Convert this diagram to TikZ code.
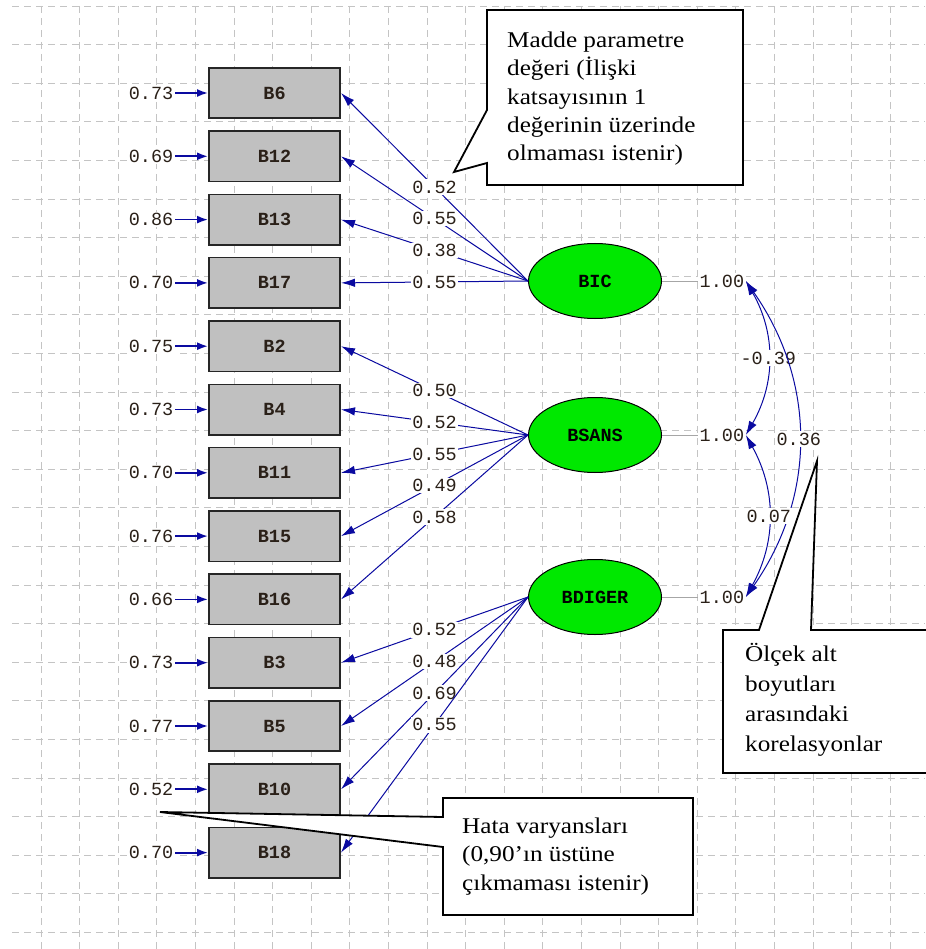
\documentclass[tikz,border=0pt]{standalone}
\usepackage{fontspec}
\setmainfont{Liberation Serif}
\newfontfamily\lisfont{Liberation Mono}
\newfontfamily\notefont[FakeStretch=1.12]{Liberation Serif}
\usetikzlibrary{shapes.geometric, arrows.meta, positioning}
\definecolor{lnb}{HTML}{0A0AA0}
\definecolor{latg}{HTML}{00E800}
\definecolor{obsg}{HTML}{C0C0C0}
\definecolor{grd}{HTML}{C4C4C4}
\definecolor{txt}{HTML}{2A2018}
\newcommand{\valfont}{\lisfont\fontsize{18.5}{20}\selectfont}
\tikzset{
  obs/.style   = {rectangle, draw=black!85, fill=obsg, line width=1.6pt,
                  minimum width=131.4pt, minimum height=50.4pt,
                  font=\valfont\bfseries, text=txt},
  lat/.style   = {ellipse, draw=black, fill=latg, line width=1pt,
                  minimum width=133pt, minimum height=75pt, inner sep=0pt,
                  font=\valfont\bfseries, text=black},
  val/.style   = {fill=white, inner sep=1.5pt, font=\valfont, text=txt},
  larr/.style  = {-{Latex[length=14pt,width=8.5pt]}, line width=1pt, color=lnb},
  earr/.style  = {-{Latex[length=11pt,width=8pt]}, line width=1.8pt, color=lnb},
  carr/.style  = {{Latex[length=14pt,width=8.5pt]}-{Latex[length=14pt,width=8.5pt]},
                  line width=1pt, color=lnb},
  varl/.style  = {draw=gray!70, line width=0.8pt},
  gridln/.style= {draw=grd, line width=0.8pt, dash pattern=on 7pt off 5pt},
  callout/.style={draw=black, fill=white, line width=1.8pt},
  note/.style  = {anchor=north west, inner sep=0pt, align=left,
                  font=\notefont\fontsize{22.5}{28.4}\selectfont},
}
\begin{document}
\begin{tikzpicture}[x=1pt, y=-1pt]

  \useasboundingbox (0,0) rectangle (925,949);
  \fill[white] (0,0) rectangle (925,949);

  % dashed background grid
  \foreach \gx in {0,...,22}
    \draw[gridln] ({41+38.6*\gx},6) -- ({41+38.6*\gx},949);
  \foreach \gy in {0,...,24}
    \draw[gridln] (12,{6+38.6*\gy}) -- (925,{6+38.6*\gy});

  % observed items
  \node[obs] (b6) at (274.5,93) {B6};
  \node[obs, below=11.3pt of b6]  (b12) {B12};
  \node[obs, below=11.3pt of b12] (b13) {B13};
  \node[obs, below=11.3pt of b13] (b17) {B17};
  \node[obs, below=11.3pt of b17] (b2)  {B2};
  \node[obs, below=11.3pt of b2]  (b4)  {B4};
  \node[obs, below=11.3pt of b4]  (b11) {B11};
  \node[obs, below=11.3pt of b11] (b15) {B15};
  \node[obs, below=11.3pt of b15] (b16) {B16};
  \node[obs, below=11.3pt of b16] (b3)  {B3};
  \node[obs, below=11.3pt of b3]  (b5)  {B5};
  \node[obs, below=11.3pt of b5]  (b10) {B10};
  \node[obs, below=11.3pt of b10] (b18) {B18};

  % error variances
  \node[val, left=33pt of b6]  (e6)  {0.73};
  \node[val, left=33pt of b12] (e12) {0.69};
  \node[val, left=33pt of b13] (e13) {0.86};
  \node[val, left=33pt of b17] (e17) {0.70};
  \node[val, left=33pt of b2]  (e2)  {0.75};
  \node[val, left=33pt of b4]  (e4)  {0.73};
  \node[val, left=33pt of b11] (e11) {0.70};
  \node[val, left=33pt of b15] (e15) {0.76};
  \node[val, left=33pt of b16] (e16) {0.66};
  \node[val, left=33pt of b3]  (e3)  {0.73};
  \node[val, left=33pt of b5]  (e5)  {0.77};
  \node[val, left=33pt of b10] (e10) {0.52};
  \node[val, left=33pt of b18] (e18) {0.70};
  \draw[earr] (e6) -- (b6);
  \draw[earr] (e12) -- (b12);
  \draw[earr] (e13) -- (b13);
  \draw[earr] (e17) -- (b17);
  \draw[earr] (e2) -- (b2);
  \draw[earr] (e4) -- (b4);
  \draw[earr] (e11) -- (b11);
  \draw[earr] (e15) -- (b15);
  \draw[earr] (e16) -- (b16);
  \draw[earr] (e3) -- (b3);
  \draw[earr] (e5) -- (b5);
  \draw[earr] (e10) -- (b10);
  \draw[earr] (e18) -- (b18);

  % latent factors
  \node[lat] (bic) at (595,281) {BIC};
  \node[lat, below=78pt of bic]   (bsans)  {BSANS};
  \node[lat, below=86pt of bsans] (bdiger) {BDIGER};

  % loadings
  \draw[larr] (bic.west) -- node[val] {0.52} (b6.east);
  \draw[larr] (bic.west) -- node[val] {0.55} (b12.east);
  \draw[larr] (bic.west) -- node[val] {0.38} (b13.east);
  \draw[larr] (bic.west) -- node[val] {0.55} (b17.east);
  \draw[larr] (bsans.west) -- node[val] {0.50} (b2.east);
  \draw[larr] (bsans.west) -- node[val] {0.52} (b4.east);
  \draw[larr] (bsans.west) -- node[val] {0.55} (b11.east);
  \draw[larr] (bsans.west) -- node[val] {0.49} (b15.east);
  \draw[larr] (bsans.west) -- node[val] {0.58} (b16.east);
  \draw[larr] (bdiger.west) -- node[val] {0.52} (b3.east);
  \draw[larr] (bdiger.west) -- node[val] {0.48} (b5.east);
  \draw[larr] (bdiger.west) -- node[val] {0.69} (b10.east);
  \draw[larr] (bdiger.west) -- node[val] {0.55} (b18.east);

  % factor variances and correlations
  \node[val, right=36pt of bic]    (v1) {1.00};
  \node[val, right=36pt of bsans]  (v2) {1.00};
  \node[val, right=36pt of bdiger] (v3) {1.00};
  \draw[varl] (bic) -- (v1);
  \draw[varl] (bsans) -- (v2);
  \draw[varl] (bdiger) -- (v3);
  \draw[carr] (v1.east) to[bend left=30] node[val] {-0.39} (v2.east);
  \draw[carr] (v1.east) to[bend left=35] node[val] {0.36} (v3.east);
  \draw[carr] (v2.east) to[bend left=29] node[val] {0.07} (v3.east);

  % callouts
  \draw[callout] (487,10) -- (743,10) -- (743,185) -- (487,185) -- (487,163)
    -- (454,172) -- (487,110) -- cycle;
  \node[note] (n1) at (507,31.5)
    {Madde parametre\\değeri (İlişki\\katsayısının 1\\değerinin üzerinde\\olmaması istenir)};

  \draw[callout] (723,630) -- (759,630) -- (817,461) -- (811,630) -- (935,630)
    -- (935,773) -- (723,773) -- cycle;
  \node[note, font=\notefont\fontsize{22.5}{30}\selectfont] (n2) at (745,643)
    {Ölçek alt\\boyutları\\arasındaki\\korelasyonlar};

  \draw[callout] (443,798) -- (693,798) -- (693,915) -- (443,915) -- (443,847)
    -- (160,812) -- (443,817) -- cycle;
  \node[note] (n3) at (462,817.6)
    {Hata varyansları\\(0,90’ın üstüne\\çıkmaması istenir)};

\end{tikzpicture}
\end{document}
